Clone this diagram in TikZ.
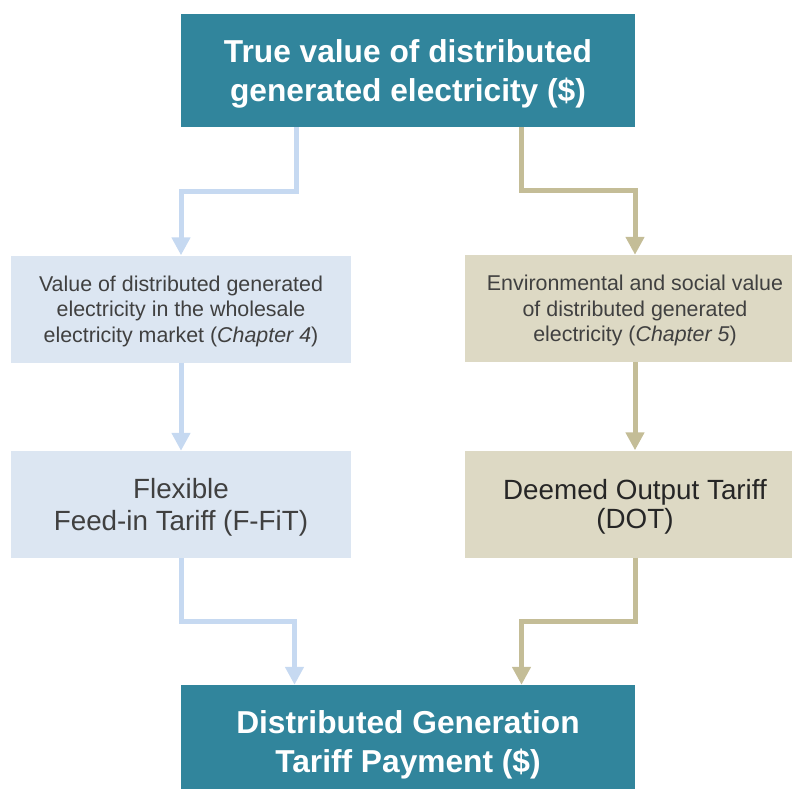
\documentclass[tikz,border=0pt]{standalone}
\usepackage{fontspec}
\setmainfont{Liberation Sans}
\usetikzlibrary{arrows.meta}
\definecolor{dgteal}{HTML}{31859C}
\definecolor{lblue}{HTML}{DCE6F2}
\definecolor{lbluearrow}{HTML}{C6D9F1}
\definecolor{ltan}{HTML}{DDD9C4}
\definecolor{ltanarrow}{HTML}{C4BD97}
\definecolor{boxtext}{HTML}{404040}

\begin{document}
\begin{tikzpicture}[x=1pt,y=-1pt,
  mainbox/.style={fill=dgteal,text=white,inner sep=0pt,align=center,
    minimum width=454pt,minimum height=113pt,text depth=0pt,
    font=\bfseries\fontsize{31.7}{38.5}\selectfont},
  valuebox/.style={inner sep=0pt,align=center,text=boxtext,
    minimum width=340pt,minimum height=107pt,text depth=0pt,
    font=\fontsize{21.4}{25.5}\selectfont},
  tariffbox/.style={inner sep=0pt,align=center,text=boxtext,
    minimum width=340pt,minimum height=107pt,text depth=0pt,
    font=\fontsize{27.8}{32}\selectfont},
  flowarrow/.style={line width=5pt,-{Triangle[width=18pt,length=18pt]}}]
\useasboundingbox (0,0) rectangle (792,789);
\clip (0,0) rectangle (792,789);

\node[mainbox] (truevalue) at (408,70.5)
  {True value of distributed\\generated electricity (\$)};
\node[valuebox,fill=lblue] (wholesale) at (181,309)
  {Value of distributed generated\\electricity in the wholesale\\electricity market (\textit{Chapter 4})};
\node[valuebox,fill=ltan] (envsocial) at (635,308.5)
  {Environmental and social value\\of distributed generated\\electricity (\textit{Chapter 5})};
\node[tariffbox,fill=lblue] (ffit) at (181,504.5)
  {Flexible\\Feed-in Tariff (F-FiT)};
\node[tariffbox,fill=ltan,text=black!85,font=\fontsize{27.8}{29}\selectfont] (dot) at (635,504)
  {Deemed Output Tariff\\(DOT)};
\node[mainbox] (payment) at (408,741.5)
  {Distributed Generation\\Tariff Payment (\$)};

% arrows
\draw[flowarrow,lbluearrow] ([xshift=-112pt]truevalue.south) |- ([yshift=64pt]wholesale.north) -- (wholesale.north);
\draw[flowarrow,ltanarrow] ([xshift=113pt]truevalue.south) |- ([yshift=64pt]envsocial.north) -- (envsocial.north);
\draw[flowarrow,lbluearrow] (wholesale.south) -- (ffit.north);
\draw[flowarrow,ltanarrow] (envsocial.south) -- (dot.north);
\draw[flowarrow,lbluearrow] (ffit.south) |- ([xshift=-113.5pt,yshift=63pt]payment.north) -- ([xshift=-113.5pt]payment.north);
\draw[flowarrow,ltanarrow] (dot.south) |- ([xshift=113.5pt,yshift=63pt]payment.north) -- ([xshift=113.5pt]payment.north);
\end{tikzpicture}
\end{document}
